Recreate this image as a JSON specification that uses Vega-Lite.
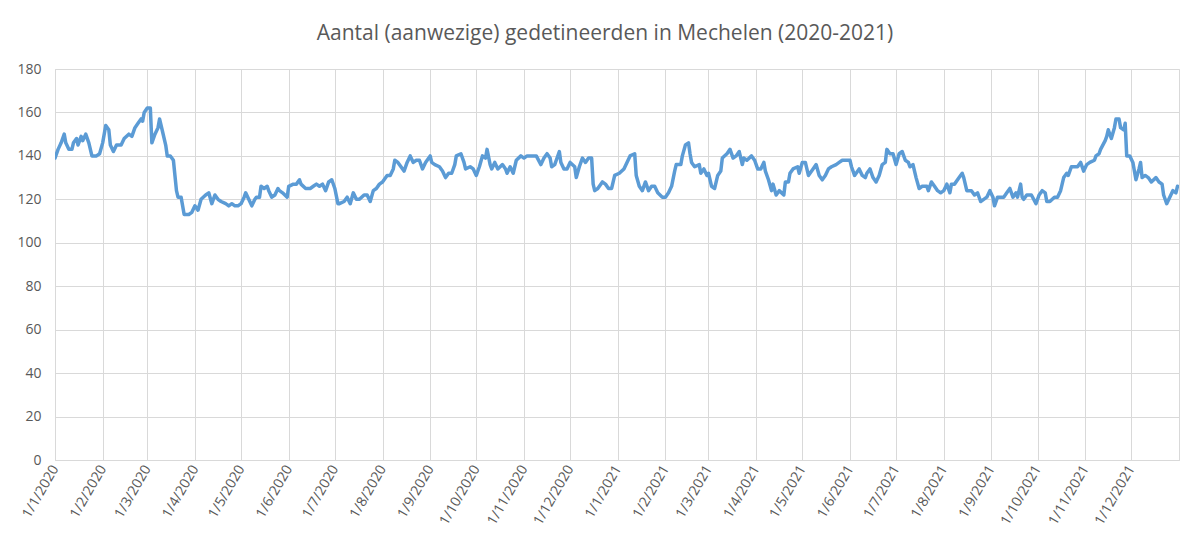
{
  "$schema": "https://vega.github.io/schema/vega-lite/v6.json",
  "width": 1124,
  "height": 391,
  "autosize": {"type": "none"},
  "padding": {"left": 55, "top": 69, "right": 25, "bottom": 82},
  "background": "white",
  "config": {"view": {"stroke": "#d9d9d9", "strokeWidth": 1}},
  "title": {
    "text": "Aantal (aanwezige) gedetineerden in Mechelen (2020-2021)",
    "font": "Open Sans",
    "fontSize": 21,
    "fontWeight": "normal",
    "color": "#595959",
    "anchor": "middle",
    "dx": -12,
    "offset": 18
  },
  "data": {
    "values": [
      {"date": "2020/01/01", "v": 139}, {"date": "2020/01/03", "v": 143}, {"date": "2020/01/05", "v": 146}, {"date": "2020/01/07", "v": 150}, {"date": "2020/01/08", "v": 146}, {"date": "2020/01/10", "v": 143}, {"date": "2020/01/12", "v": 143}, {"date": "2020/01/13", "v": 146}, {"date": "2020/01/15", "v": 148}, {"date": "2020/01/16", "v": 145}, {"date": "2020/01/18", "v": 149}, {"date": "2020/01/19", "v": 147}, {"date": "2020/01/21", "v": 150}, {"date": "2020/01/23", "v": 146}, {"date": "2020/01/25", "v": 140}, {"date": "2020/01/28", "v": 140}, {"date": "2020/01/30", "v": 141},
      {"date": "2020/02/01", "v": 146}, {"date": "2020/02/03", "v": 154}, {"date": "2020/02/05", "v": 152}, {"date": "2020/02/06", "v": 145}, {"date": "2020/02/08", "v": 142}, {"date": "2020/02/10", "v": 145}, {"date": "2020/02/13", "v": 145}, {"date": "2020/02/15", "v": 148}, {"date": "2020/02/18", "v": 150}, {"date": "2020/02/20", "v": 149}, {"date": "2020/02/22", "v": 153}, {"date": "2020/02/24", "v": 155}, {"date": "2020/02/26", "v": 157}, {"date": "2020/02/27", "v": 156}, {"date": "2020/02/28", "v": 160},
      {"date": "2020/03/01", "v": 162}, {"date": "2020/03/03", "v": 162}, {"date": "2020/03/04", "v": 146}, {"date": "2020/03/06", "v": 150}, {"date": "2020/03/08", "v": 153}, {"date": "2020/03/09", "v": 157}, {"date": "2020/03/11", "v": 151}, {"date": "2020/03/13", "v": 145}, {"date": "2020/03/14", "v": 140}, {"date": "2020/03/16", "v": 140}, {"date": "2020/03/18", "v": 138}, {"date": "2020/03/20", "v": 124}, {"date": "2020/03/21", "v": 121}, {"date": "2020/03/23", "v": 121}, {"date": "2020/03/25", "v": 113}, {"date": "2020/03/28", "v": 113}, {"date": "2020/03/30", "v": 114},
      {"date": "2020/04/01", "v": 117}, {"date": "2020/04/03", "v": 115}, {"date": "2020/04/05", "v": 120}, {"date": "2020/04/08", "v": 122}, {"date": "2020/04/10", "v": 123}, {"date": "2020/04/12", "v": 118}, {"date": "2020/04/14", "v": 122}, {"date": "2020/04/16", "v": 120}, {"date": "2020/04/18", "v": 119}, {"date": "2020/04/21", "v": 118}, {"date": "2020/04/23", "v": 117}, {"date": "2020/04/25", "v": 118}, {"date": "2020/04/27", "v": 117}, {"date": "2020/04/29", "v": 117},
      {"date": "2020/05/01", "v": 118}, {"date": "2020/05/03", "v": 121}, {"date": "2020/05/04", "v": 123}, {"date": "2020/05/06", "v": 120}, {"date": "2020/05/08", "v": 117}, {"date": "2020/05/10", "v": 120}, {"date": "2020/05/11", "v": 121}, {"date": "2020/05/13", "v": 121}, {"date": "2020/05/14", "v": 126}, {"date": "2020/05/16", "v": 125}, {"date": "2020/05/18", "v": 126}, {"date": "2020/05/19", "v": 124}, {"date": "2020/05/21", "v": 121}, {"date": "2020/05/23", "v": 122}, {"date": "2020/05/25", "v": 125}, {"date": "2020/05/26", "v": 124}, {"date": "2020/05/28", "v": 123}, {"date": "2020/05/31", "v": 121},
      {"date": "2020/06/01", "v": 126}, {"date": "2020/06/04", "v": 127}, {"date": "2020/06/06", "v": 127}, {"date": "2020/06/08", "v": 129}, {"date": "2020/06/09", "v": 127}, {"date": "2020/06/12", "v": 125}, {"date": "2020/06/15", "v": 125}, {"date": "2020/06/17", "v": 126}, {"date": "2020/06/19", "v": 127}, {"date": "2020/06/21", "v": 126}, {"date": "2020/06/23", "v": 127}, {"date": "2020/06/25", "v": 124}, {"date": "2020/06/27", "v": 128}, {"date": "2020/06/29", "v": 129},
      {"date": "2020/07/01", "v": 125}, {"date": "2020/07/03", "v": 118}, {"date": "2020/07/04", "v": 118}, {"date": "2020/07/07", "v": 119}, {"date": "2020/07/09", "v": 121}, {"date": "2020/07/11", "v": 118}, {"date": "2020/07/13", "v": 123}, {"date": "2020/07/15", "v": 120}, {"date": "2020/07/17", "v": 120}, {"date": "2020/07/20", "v": 122}, {"date": "2020/07/22", "v": 122}, {"date": "2020/07/24", "v": 119}, {"date": "2020/07/26", "v": 124}, {"date": "2020/07/28", "v": 125}, {"date": "2020/07/30", "v": 127},
      {"date": "2020/08/01", "v": 128}, {"date": "2020/08/04", "v": 131}, {"date": "2020/08/06", "v": 131}, {"date": "2020/08/08", "v": 134}, {"date": "2020/08/09", "v": 138}, {"date": "2020/08/11", "v": 137}, {"date": "2020/08/13", "v": 135}, {"date": "2020/08/15", "v": 133}, {"date": "2020/08/17", "v": 137}, {"date": "2020/08/19", "v": 140}, {"date": "2020/08/21", "v": 137}, {"date": "2020/08/23", "v": 138}, {"date": "2020/08/25", "v": 138}, {"date": "2020/08/27", "v": 134}, {"date": "2020/08/29", "v": 137},
      {"date": "2020/09/01", "v": 140}, {"date": "2020/09/02", "v": 137}, {"date": "2020/09/04", "v": 136}, {"date": "2020/09/07", "v": 135}, {"date": "2020/09/09", "v": 133}, {"date": "2020/09/11", "v": 130}, {"date": "2020/09/13", "v": 132}, {"date": "2020/09/15", "v": 132}, {"date": "2020/09/17", "v": 136}, {"date": "2020/09/18", "v": 140}, {"date": "2020/09/21", "v": 141}, {"date": "2020/09/23", "v": 137}, {"date": "2020/09/24", "v": 134}, {"date": "2020/09/27", "v": 135}, {"date": "2020/09/29", "v": 134},
      {"date": "2020/10/01", "v": 131}, {"date": "2020/10/03", "v": 135}, {"date": "2020/10/05", "v": 140}, {"date": "2020/10/07", "v": 139}, {"date": "2020/10/08", "v": 143}, {"date": "2020/10/10", "v": 136}, {"date": "2020/10/11", "v": 134}, {"date": "2020/10/13", "v": 137}, {"date": "2020/10/15", "v": 134}, {"date": "2020/10/18", "v": 136}, {"date": "2020/10/20", "v": 134}, {"date": "2020/10/21", "v": 132}, {"date": "2020/10/23", "v": 135}, {"date": "2020/10/25", "v": 132}, {"date": "2020/10/27", "v": 138}, {"date": "2020/10/30", "v": 140},
      {"date": "2020/11/01", "v": 139}, {"date": "2020/11/03", "v": 140}, {"date": "2020/11/05", "v": 140}, {"date": "2020/11/07", "v": 140}, {"date": "2020/11/09", "v": 140}, {"date": "2020/11/12", "v": 136}, {"date": "2020/11/14", "v": 139}, {"date": "2020/11/16", "v": 141}, {"date": "2020/11/18", "v": 139}, {"date": "2020/11/19", "v": 135}, {"date": "2020/11/21", "v": 136}, {"date": "2020/11/22", "v": 138}, {"date": "2020/11/24", "v": 142}, {"date": "2020/11/25", "v": 137}, {"date": "2020/11/27", "v": 134}, {"date": "2020/11/29", "v": 134},
      {"date": "2020/12/01", "v": 137}, {"date": "2020/12/04", "v": 135}, {"date": "2020/12/05", "v": 130}, {"date": "2020/12/07", "v": 135}, {"date": "2020/12/09", "v": 139}, {"date": "2020/12/11", "v": 137}, {"date": "2020/12/13", "v": 139}, {"date": "2020/12/15", "v": 139}, {"date": "2020/12/16", "v": 127}, {"date": "2020/12/17", "v": 124}, {"date": "2020/12/19", "v": 125}, {"date": "2020/12/22", "v": 128}, {"date": "2020/12/24", "v": 127}, {"date": "2020/12/26", "v": 125}, {"date": "2020/12/28", "v": 125}, {"date": "2020/12/30", "v": 131},
      {"date": "2021/01/02", "v": 132}, {"date": "2021/01/05", "v": 134}, {"date": "2021/01/07", "v": 137}, {"date": "2021/01/09", "v": 140}, {"date": "2021/01/12", "v": 141}, {"date": "2021/01/13", "v": 131}, {"date": "2021/01/15", "v": 126}, {"date": "2021/01/17", "v": 124}, {"date": "2021/01/19", "v": 128}, {"date": "2021/01/21", "v": 124}, {"date": "2021/01/23", "v": 126}, {"date": "2021/01/25", "v": 126}, {"date": "2021/01/27", "v": 123}, {"date": "2021/01/30", "v": 121},
      {"date": "2021/02/01", "v": 121}, {"date": "2021/02/03", "v": 123}, {"date": "2021/02/05", "v": 126}, {"date": "2021/02/07", "v": 133}, {"date": "2021/02/08", "v": 136}, {"date": "2021/02/11", "v": 136}, {"date": "2021/02/12", "v": 140}, {"date": "2021/02/14", "v": 145}, {"date": "2021/02/16", "v": 146}, {"date": "2021/02/17", "v": 141}, {"date": "2021/02/18", "v": 137}, {"date": "2021/02/20", "v": 135}, {"date": "2021/02/23", "v": 136}, {"date": "2021/02/24", "v": 132}, {"date": "2021/02/26", "v": 134}, {"date": "2021/02/28", "v": 131},
      {"date": "2021/03/01", "v": 132}, {"date": "2021/03/03", "v": 126}, {"date": "2021/03/05", "v": 125}, {"date": "2021/03/07", "v": 131}, {"date": "2021/03/09", "v": 133}, {"date": "2021/03/10", "v": 139}, {"date": "2021/03/13", "v": 141}, {"date": "2021/03/15", "v": 143}, {"date": "2021/03/17", "v": 139}, {"date": "2021/03/19", "v": 140}, {"date": "2021/03/21", "v": 142}, {"date": "2021/03/23", "v": 136}, {"date": "2021/03/24", "v": 139}, {"date": "2021/03/26", "v": 138}, {"date": "2021/03/29", "v": 140}, {"date": "2021/03/31", "v": 138},
      {"date": "2021/04/02", "v": 134}, {"date": "2021/04/04", "v": 134}, {"date": "2021/04/06", "v": 137}, {"date": "2021/04/07", "v": 133}, {"date": "2021/04/09", "v": 129}, {"date": "2021/04/11", "v": 124}, {"date": "2021/04/12", "v": 127}, {"date": "2021/04/14", "v": 122}, {"date": "2021/04/16", "v": 124}, {"date": "2021/04/19", "v": 122}, {"date": "2021/04/20", "v": 128}, {"date": "2021/04/22", "v": 128}, {"date": "2021/04/23", "v": 132}, {"date": "2021/04/25", "v": 134}, {"date": "2021/04/28", "v": 135}, {"date": "2021/04/29", "v": 132},
      {"date": "2021/05/01", "v": 137}, {"date": "2021/05/03", "v": 137}, {"date": "2021/05/05", "v": 131}, {"date": "2021/05/08", "v": 134}, {"date": "2021/05/10", "v": 136}, {"date": "2021/05/12", "v": 131}, {"date": "2021/05/14", "v": 129}, {"date": "2021/05/16", "v": 131}, {"date": "2021/05/18", "v": 134}, {"date": "2021/05/20", "v": 135}, {"date": "2021/05/23", "v": 136}, {"date": "2021/05/25", "v": 137}, {"date": "2021/05/27", "v": 138}, {"date": "2021/05/30", "v": 138},
      {"date": "2021/06/01", "v": 138}, {"date": "2021/06/02", "v": 135}, {"date": "2021/06/04", "v": 131}, {"date": "2021/06/07", "v": 134}, {"date": "2021/06/09", "v": 131}, {"date": "2021/06/11", "v": 130}, {"date": "2021/06/12", "v": 132}, {"date": "2021/06/14", "v": 134}, {"date": "2021/06/16", "v": 130}, {"date": "2021/06/18", "v": 128}, {"date": "2021/06/20", "v": 131}, {"date": "2021/06/22", "v": 136}, {"date": "2021/06/24", "v": 137}, {"date": "2021/06/25", "v": 143}, {"date": "2021/06/27", "v": 141}, {"date": "2021/06/29", "v": 141},
      {"date": "2021/07/01", "v": 136}, {"date": "2021/07/03", "v": 141}, {"date": "2021/07/05", "v": 142}, {"date": "2021/07/07", "v": 138}, {"date": "2021/07/09", "v": 137}, {"date": "2021/07/10", "v": 135}, {"date": "2021/07/12", "v": 136}, {"date": "2021/07/14", "v": 130}, {"date": "2021/07/16", "v": 125}, {"date": "2021/07/18", "v": 126}, {"date": "2021/07/21", "v": 126}, {"date": "2021/07/22", "v": 124}, {"date": "2021/07/24", "v": 128}, {"date": "2021/07/26", "v": 126}, {"date": "2021/07/28", "v": 124}, {"date": "2021/07/30", "v": 123},
      {"date": "2021/08/01", "v": 124}, {"date": "2021/08/03", "v": 127}, {"date": "2021/08/05", "v": 123}, {"date": "2021/08/06", "v": 127}, {"date": "2021/08/08", "v": 127}, {"date": "2021/08/11", "v": 130}, {"date": "2021/08/13", "v": 132}, {"date": "2021/08/14", "v": 130}, {"date": "2021/08/16", "v": 124}, {"date": "2021/08/19", "v": 124}, {"date": "2021/08/21", "v": 122}, {"date": "2021/08/23", "v": 123}, {"date": "2021/08/25", "v": 119}, {"date": "2021/08/27", "v": 120}, {"date": "2021/08/29", "v": 121}, {"date": "2021/08/31", "v": 124},
      {"date": "2021/09/02", "v": 121}, {"date": "2021/09/03", "v": 117}, {"date": "2021/09/05", "v": 121}, {"date": "2021/09/07", "v": 121}, {"date": "2021/09/09", "v": 121}, {"date": "2021/09/11", "v": 123}, {"date": "2021/09/13", "v": 125}, {"date": "2021/09/15", "v": 121}, {"date": "2021/09/17", "v": 123}, {"date": "2021/09/18", "v": 121}, {"date": "2021/09/20", "v": 127}, {"date": "2021/09/21", "v": 121}, {"date": "2021/09/22", "v": 120}, {"date": "2021/09/24", "v": 122}, {"date": "2021/09/27", "v": 122}, {"date": "2021/09/30", "v": 118},
      {"date": "2021/10/02", "v": 122}, {"date": "2021/10/04", "v": 124}, {"date": "2021/10/06", "v": 123}, {"date": "2021/10/07", "v": 119}, {"date": "2021/10/09", "v": 119}, {"date": "2021/10/12", "v": 121}, {"date": "2021/10/14", "v": 121}, {"date": "2021/10/16", "v": 124}, {"date": "2021/10/18", "v": 130}, {"date": "2021/10/20", "v": 132}, {"date": "2021/10/21", "v": 131}, {"date": "2021/10/23", "v": 135}, {"date": "2021/10/25", "v": 135}, {"date": "2021/10/27", "v": 135}, {"date": "2021/10/29", "v": 137}, {"date": "2021/10/31", "v": 133},
      {"date": "2021/11/02", "v": 136}, {"date": "2021/11/04", "v": 137}, {"date": "2021/11/07", "v": 138}, {"date": "2021/11/08", "v": 140}, {"date": "2021/11/10", "v": 141}, {"date": "2021/11/11", "v": 143}, {"date": "2021/11/14", "v": 147}, {"date": "2021/11/15", "v": 149}, {"date": "2021/11/16", "v": 152}, {"date": "2021/11/18", "v": 148}, {"date": "2021/11/20", "v": 153}, {"date": "2021/11/21", "v": 157}, {"date": "2021/11/23", "v": 157}, {"date": "2021/11/24", "v": 153}, {"date": "2021/11/26", "v": 152}, {"date": "2021/11/27", "v": 155}, {"date": "2021/11/28", "v": 140}, {"date": "2021/11/30", "v": 140},
      {"date": "2021/12/02", "v": 137}, {"date": "2021/12/04", "v": 129}, {"date": "2021/12/06", "v": 134}, {"date": "2021/12/07", "v": 137}, {"date": "2021/12/08", "v": 130}, {"date": "2021/12/10", "v": 131}, {"date": "2021/12/12", "v": 130}, {"date": "2021/12/14", "v": 128}, {"date": "2021/12/17", "v": 130}, {"date": "2021/12/19", "v": 128}, {"date": "2021/12/21", "v": 127}, {"date": "2021/12/22", "v": 122}, {"date": "2021/12/24", "v": 118}, {"date": "2021/12/26", "v": 121}, {"date": "2021/12/28", "v": 124}, {"date": "2021/12/30", "v": 123}, {"date": "2021/12/31", "v": 126}
    ]
  },
  "mark": {"type": "line", "color": "#5b9bd5", "strokeWidth": 3.5, "strokeJoin": "round", "strokeCap": "round", "clip": true},
  "encoding": {
    "x": {
      "field": "date",
      "type": "temporal",
      "scale": {"domain": [{"year": 2020, "month": 1, "date": 1}, {"year": 2022, "month": 1, "date": 1}]},
      "axis": {
        "title": null,
        "values": [
          {"year": 2020, "month": 1, "date": 1}, {"year": 2020, "month": 2, "date": 1}, {"year": 2020, "month": 3, "date": 1}, {"year": 2020, "month": 4, "date": 1}, {"year": 2020, "month": 5, "date": 1}, {"year": 2020, "month": 6, "date": 1}, {"year": 2020, "month": 7, "date": 1}, {"year": 2020, "month": 8, "date": 1}, {"year": 2020, "month": 9, "date": 1}, {"year": 2020, "month": 10, "date": 1}, {"year": 2020, "month": 11, "date": 1}, {"year": 2020, "month": 12, "date": 1},
          {"year": 2021, "month": 1, "date": 1}, {"year": 2021, "month": 2, "date": 1}, {"year": 2021, "month": 3, "date": 1}, {"year": 2021, "month": 4, "date": 1}, {"year": 2021, "month": 5, "date": 1}, {"year": 2021, "month": 6, "date": 1}, {"year": 2021, "month": 7, "date": 1}, {"year": 2021, "month": 8, "date": 1}, {"year": 2021, "month": 9, "date": 1}, {"year": 2021, "month": 10, "date": 1}, {"year": 2021, "month": 11, "date": 1}, {"year": 2021, "month": 12, "date": 1}
        ],
        "format": "%-d/%-m/%Y",
        "labelAngle": -60,
        "labelAlign": "right",
        "labelBaseline": "middle",
        "labelPadding": 6,
        "labelFont": "Open Sans",
        "labelFontSize": 14,
        "labelColor": "#595959",
        "labelOverlap": false,
        "labelFlush": false,
        "ticks": false,
        "domainColor": "#d9d9d9",
        "gridColor": "#d9d9d9",
        "grid": true
      }
    },
    "y": {
      "field": "v",
      "type": "quantitative",
      "scale": {"domain": [0, 180]},
      "axis": {
        "title": null,
        "values": [0, 20, 40, 60, 80, 100, 120, 140, 160, 180],
        "labelFont": "Open Sans",
        "labelFontSize": 14,
        "labelColor": "#595959",
        "labelPadding": 14,
        "ticks": false,
        "domain": false,
        "gridColor": "#d9d9d9",
        "grid": true
      }
    }
  }
}
